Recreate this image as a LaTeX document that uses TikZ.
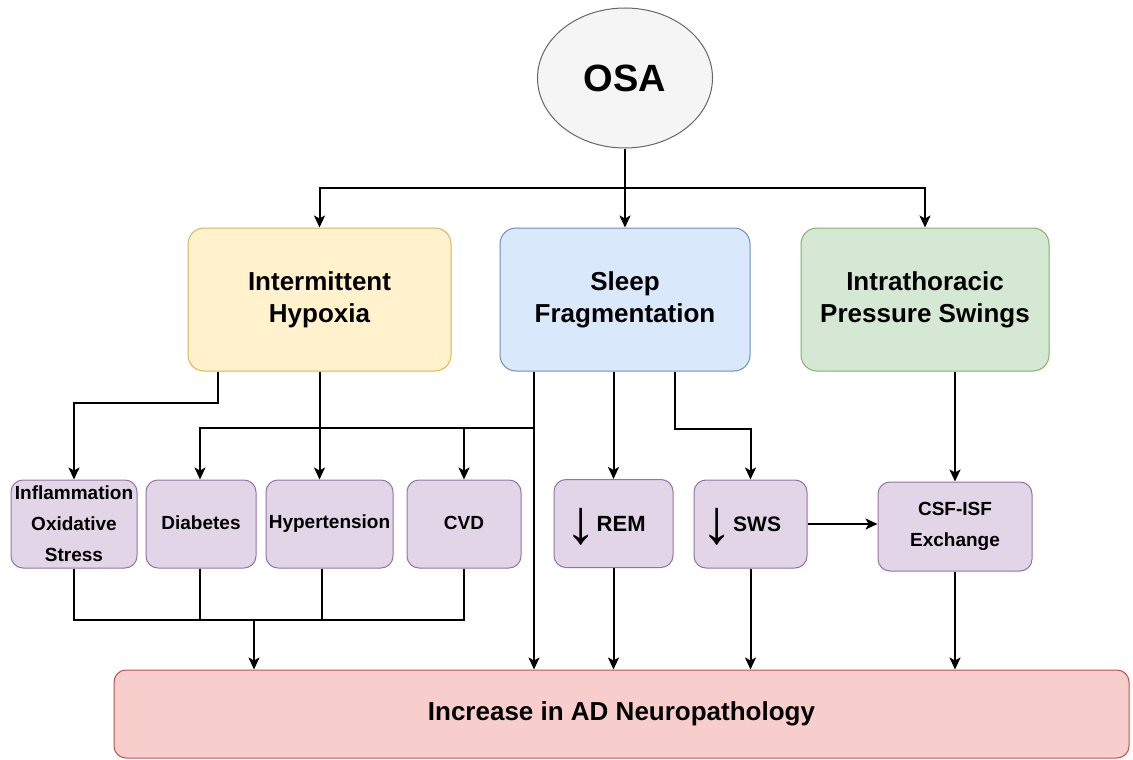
\documentclass[tikz,border=0pt]{standalone}
\usepackage{fontspec}
\setmainfont{Liberation Sans}
\usetikzlibrary{shapes.geometric,arrows.meta}
\definecolor{yfill}{HTML}{FFF2CC}\definecolor{ydraw}{HTML}{D6B656}
\definecolor{bfill}{HTML}{DAE8FC}\definecolor{bdraw}{HTML}{6C8EBF}
\definecolor{gfill}{HTML}{D5E8D4}\definecolor{gdraw}{HTML}{82B366}
\definecolor{pfill}{HTML}{E1D5E7}\definecolor{pdraw}{HTML}{9673A6}
\definecolor{rfill}{HTML}{F8CECC}\definecolor{rdraw}{HTML}{B85450}
\definecolor{efill}{HTML}{F5F5F5}\definecolor{edraw}{HTML}{666666}
\newcommand{\dnarrow}{\raisebox{-14pt}[0pt][0pt]{\resizebox*{!}{37pt}{\raisebox{\depth}{\mdseries ↓}}}}
\begin{document}
\begin{tikzpicture}[x=1pt,y=-1pt,
  bigbox/.style={draw, rounded corners=16pt, line width=1pt, align=center, inner sep=0pt,
    minimum height=143pt, font=\bfseries\fontsize{26}{32}\selectfont},
  smallbox/.style={draw=pdraw, fill=pfill, rounded corners=12pt, line width=1pt, align=center,
    inner sep=0pt, minimum height=88pt, font=\bfseries\fontsize{19}{31}\selectfont},
  arr/.style={line width=2pt, -{Stealth[length=12pt,width=11pt,inset=3pt]}},
  ln/.style={line width=2pt}]
\fill[white] (0,0) rectangle (1133,760);
\useasboundingbox (0,0) rectangle (1133,760);

% top
\node[ellipse, draw=edraw, fill=efill, line width=1pt, minimum width=175pt, minimum height=140pt,
  inner sep=0pt, font=\bfseries\fontsize{38}{44}\selectfont] (osa) at (625,78) {OSA};

\node[bigbox, draw=ydraw, fill=yfill, minimum width=263pt] (ih) at (319.5,299.5) {Intermittent\\Hypoxia};
\node[bigbox, draw=bdraw, fill=bfill, minimum width=250pt] (sf) at (625,299.5) {Sleep\\Fragmentation};
\node[bigbox, draw=gdraw, fill=gfill, minimum width=248pt] (it) at (925,299.5) {Intrathoracic\\Pressure Swings};

% small boxes
\node[smallbox, minimum width=126pt] (infl) at (74,524) {Inflammation\\Oxidative\\Stress};
\node[smallbox, minimum width=110pt] (diab) at (201,524) {\raisebox{3pt}{Diabetes}};
\node[smallbox, minimum width=127pt] (hyp) at (329.5,524) {\raisebox{3pt}{Hypertension}};
\node[smallbox, minimum width=114pt] (cvd) at (464,524) {\raisebox{3pt}{CVD}};
\node[smallbox, minimum width=119pt, font=\bfseries\fontsize{22}{26}\selectfont] (rem) at (613.5,523.5) {\dnarrow REM\hspace{16pt}};
\node[smallbox, minimum width=113pt, font=\bfseries\fontsize{21}{26}\selectfont] (sws) at (750.5,524) {\dnarrow SWS\hspace{18pt}};
\node[smallbox, minimum width=154pt, minimum height=89pt] (csf) at (955,526.5) {CSF-ISF\\Exchange};

% bottom
\node[draw=rdraw, fill=rfill, rounded corners=12pt, line width=1pt, minimum width=1015pt,
  minimum height=88pt, inner sep=0pt, font=\bfseries\fontsize{26}{32}\selectfont] (ad) at (621.5,714)
  {Increase in AD Neuropathology};

% coordinates
\coordinate (bus) at (625,188);
\coordinate (jn) at (534,428);
\coordinate (bus2) at (254,620);

% OSA connectors
\draw[ln] (osa) -- (bus);
\draw[arr] (bus) -| (ih.north);
\draw[arr] (bus) -- (sf.north);
\draw[arr] (bus) -| (it.north);

% IH connectors
\draw[arr] ([xshift=-102pt]ih.south) -- ++(0,31) -| (infl.north);
\draw[arr] (ih.south) -- (ih.south |- hyp.north);

% SF connectors
\draw[arr] ([xshift=-91pt]sf.south) -- ([xshift=-91pt]sf.south |- ad.north);
\draw[arr] (jn) -| ([xshift=-1pt]diab.north);
\draw[arr] (jn -| cvd.north) -- (cvd.north);
\draw[arr] (sf.south -| rem.north) -- (rem.north);
\draw[arr] ([xshift=50pt]sf.south) -- ++(0,57) -| (sws.north);

% IT connector
\draw[arr] (it.south -| csf.north) -- (csf.north);
\draw[arr] (sws.east) -- (sws.east -| csf.west);

% lower bus
\draw[ln] (infl.south) |- (bus2) -| (cvd.south);
\draw[ln] ([xshift=-1pt]diab.south) -- ([xshift=-1pt]diab.south |- bus2);
\draw[ln] ([xshift=-8pt]hyp.south) -- ([xshift=-8pt]hyp.south |- bus2);
\draw[arr] (bus2) -- (bus2 |- ad.north);

% to AD
\draw[arr] (rem.south) -- (rem.south |- ad.north);
\draw[arr] (sws.south) -- (sws.south |- ad.north);
\draw[arr] (csf.south) -- (csf.south |- ad.north);
\end{tikzpicture}
\end{document}
